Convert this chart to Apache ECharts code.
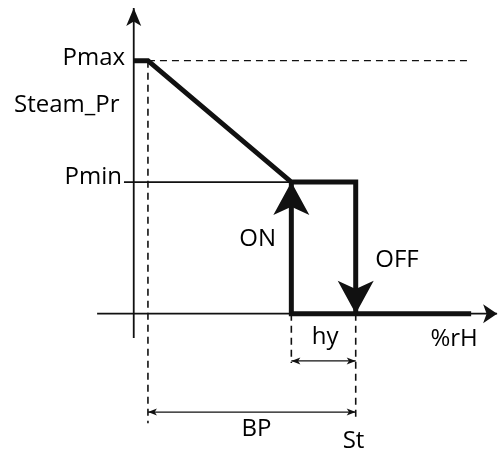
<!DOCTYPE html>
<html>
<head>
<meta charset="utf-8">
<script src="https://cdn.jsdelivr.net/npm/echarts@6/dist/echarts.min.js"></script>
<style>
  html, body { margin: 0; padding: 0; background: #fff; }
  #chart { width: 500px; height: 452px; }
</style>
</head>
<body>
<div id="chart"></div>
<script>
// diagram values (x: %rH units, St = 100; y: steam pressure, Pmax = 100)
var pMax = 100, pMin = 52;
var xBandStart = 6.4;      // start of proportional band
var xSt = 100;             // set point
var xOn = 71;              // St - hy
var xEnd = 152;

var thickRamp = [[0, pMax], [xBandStart, pMax], [xOn, pMin], [xSt, pMin], [xSt, 0]];
var thickOn = [[xOn, pMin], [xOn, 0], [xEnd, 0]];
var pminLine = [[-4.4, pMin], [xOn, pMin]];
var pmaxDash = [[xBandStart, pMax], [151.5, pMax]];
var dashBand = [[xBandStart, pMax], [xBandStart, -43.3]];
var dashOn = [[xOn, 0], [xOn, -19.5]];
var dashSt = [[xSt, 0], [xSt, -41]];
var hyLine = [[xOn, -18.7], [xSt, -18.7]];
var bpLine = [[xBandStart, -38.9], [xSt, -38.9]];
var axisXLine = [[-16.5, 0], [163.7, 0]];
var axisYLine = [[0, -9.6], [0, 120.8]];

var labelNames = ['Pmax', 'Steam_Pr', 'Pmin', 'ON', 'OFF', 'hy', '%rH', 'BP', 'St'];
var labelAnchors = [[-3.9, 100.9], [-6.4, 82.6], [-5.3, 54], [55.8, 29.5], [118.6, 21],
                    [86.2, -9.4], [144.3, -10.2], [55.3, -45.6], [99, -50.5]];

var P_UP = 'path://M5,0 L10,10 L5,7.5 L0,10 Z';
var P_DOWN = 'path://M0,0 L5,2.5 L10,0 L5,10 Z';
var P_RIGHT = 'path://M0,0 L10,5 L0,10 L2.5,5 Z';
var P_LEFT = 'path://M10,0 L0,5 L10,10 L7.5,5 Z';

var arrowHeads = [
  { value: [xOn, pMin], symbol: P_UP, symbolSize: [36, 33], symbolOffset: [0, 16.5] },
  { value: [xSt, 0], symbol: P_DOWN, symbolSize: [36, 33], symbolOffset: [0, -16.5] },
  { value: [0, 120.8], symbol: P_UP, symbolSize: [15, 18], symbolOffset: [0, 9] },
  { value: [163.7, 0], symbol: P_RIGHT, symbolSize: [14, 19], symbolOffset: [-7, 0] },
  { value: [xOn, -18.7], symbol: P_LEFT, symbolSize: [9, 7], symbolOffset: [4.5, 0] },
  { value: [xSt, -18.7], symbol: P_RIGHT, symbolSize: [9, 7], symbolOffset: [-4.5, 0] },
  { value: [xBandStart, -38.9], symbol: P_LEFT, symbolSize: [9, 7], symbolOffset: [4.5, 0] },
  { value: [xSt, -38.9], symbol: P_RIGHT, symbolSize: [9, 7], symbolOffset: [-4.5, 0] }
];

var INK = '#111';

function seg(data, width, dashed, z) {
  return {
    type: 'line', data: data, showSymbol: false, silent: true, z: z || 2,
    lineStyle: { color: INK, width: width, opacity: 1, type: dashed ? [7, 5] : 'solid', cap: 'butt', join: 'miter' }
  };
}

var chart = echarts.init(document.getElementById('chart'), null, { renderer: 'canvas' });
var option = {
  animation: false,
  grid: { left: 96, right: 0, top: 5, bottom: 6.8 },
  xAxis: { type: 'value', min: -17, max: 165, show: false },
  yAxis: { type: 'value', min: -52, max: 122, show: false },
  series: [
    seg(axisXLine, 1.8),
    seg(axisYLine, 1.8),
    seg(pminLine, 1.6),
    seg(pmaxDash, 1.4, true),
    seg(dashBand, 1.6, true),
    seg(dashOn, 1.6, true),
    seg(dashSt, 1.6, true),
    seg(hyLine, 1.3),
    seg(bpLine, 1.3),
    seg(thickRamp, 5, false, 4),
    seg(thickOn, 5, false, 4),
    {
      type: 'scatter', z: 5, silent: true, data: arrowHeads,
      itemStyle: { color: INK, opacity: 1 }
    },
    {
      type: 'scatter', z: 6, silent: true, clip: false, symbolSize: 0,
      itemStyle: { opacity: 1 },
      data: labelNames.map(function (n, i) {
        var right = i < 3;
        return {
          name: n, value: labelAnchors[i],
          label: {
            show: true, formatter: n, position: 'inside',
            align: right ? 'right' : 'center', verticalAlign: 'middle',
            fontFamily: 'Open Sans', fontSize: 24, color: '#000'
          }
        };
      })
    }
  ]
};
chart.setOption(option);
</script>
</body>
</html>
